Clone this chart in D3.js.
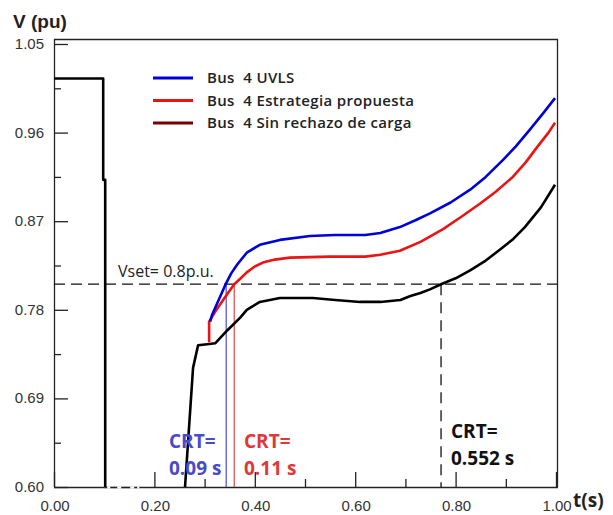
<!DOCTYPE html>
<html>
<head>
<meta charset="utf-8">
<script src="https://cdn.jsdelivr.net/npm/d3@7"></script>
<style>
  body { margin: 0; background: #fff; }
  svg { display: block; }
</style>
</head>
<body>
<svg id="chart" width="613" height="515"></svg>
<script>
// black: Bus 4 sin rechazo de carga
var tBlack = [0, 0.098, 0.098, 0.102, 0.102, 0.255, 0.261, 0.277, 0.287, 0.305, 0.321, 0.345, 0.371, 0.384, 0.41, 0.45, 0.516, 0.56, 0.61, 0.65, 0.69, 0.71, 0.73, 0.75, 0.771, 0.80, 0.829, 0.86, 0.888, 0.915, 0.938, 0.97, 0.998]
var vBlack = [1.015, 1.015, 0.912, 0.912, 0.55, 0.55, 0.60, 0.721, 0.744, 0.745, 0.746, 0.759, 0.772, 0.78, 0.788, 0.792, 0.792, 0.79, 0.788, 0.788, 0.790, 0.794, 0.797, 0.801, 0.806, 0.812, 0.820, 0.830, 0.841, 0.852, 0.864, 0.884, 0.907]

// blue: UVLS
var tBlue = [0.311, 0.315, 0.328, 0.341, 0.353, 0.365, 0.384, 0.41, 0.45, 0.51, 0.56, 0.62, 0.65, 0.689, 0.72, 0.749, 0.79, 0.829, 0.86, 0.894, 0.92, 0.948, 0.975, 0.998]
var vBlue = [0.768, 0.775, 0.790, 0.805, 0.817, 0.826, 0.838, 0.846, 0.851, 0.855, 0.856, 0.856, 0.858, 0.864, 0.871, 0.878, 0.889, 0.902, 0.915, 0.932, 0.946, 0.963, 0.980, 0.995]

// red: estrategia propuesta
var tRed = [0.309, 0.309, 0.321, 0.341, 0.359, 0.372, 0.384, 0.40, 0.416, 0.44, 0.47, 0.55, 0.62, 0.65, 0.689, 0.73, 0.775, 0.81, 0.849, 0.88, 0.914, 0.94, 0.962, 0.985, 0.998]
var vRed = [0.747, 0.768, 0.778, 0.793, 0.806, 0.812, 0.818, 0.824, 0.828, 0.831, 0.833, 0.834, 0.834, 0.836, 0.840, 0.849, 0.862, 0.874, 0.888, 0.900, 0.915, 0.930, 0.945, 0.960, 0.970]

var yTicks = [0.60, 0.69, 0.78, 0.87, 0.96, 1.05]
var yMinor = [0.645, 0.735, 0.825, 0.915, 1.005]
var xTicks = [0, 0.2, 0.4, 0.6, 0.8, 1.0]
var xMinor = [0.1, 0.3, 0.5, 0.7, 0.9]

var vset = 0.806
var crtBlue = 0.343, crtRed = 0.359, crtBlack = 0.771

var legendNames = ["Bus  4 UVLS", "Bus  4 Estrategia propuesta", "Bus  4 Sin rechazo de carga"]
var legendColors = ["#0000d8", "#e81515", "#780000"]

var svg = d3.select("svg#chart")
var pLeft = 54, pRight = 557, pTop = 44, pBottom = 487, frameTop = 39

var x = d3.scaleLinear().domain([0, 1]).range([pLeft, pRight - 1])
var y = d3.scaleLinear().domain([0.60, 1.05]).range([pBottom, pTop])

svg.append("defs").append("clipPath").attr("id", "clip")
    .append("rect").attr("x", pLeft).attr("y", frameTop).attr("width", pRight - pLeft + 1).attr("height", pBottom - frameTop)

// frame top/right
svg.append("path")
    .attr("d", "M" + pLeft + "," + (frameTop + 0.5) + " H" + (pRight + 0.5) + " V" + pBottom)
    .attr("fill", "none").attr("stroke", "#222").attr("stroke-width", 1.3)

// axes
var yAxis = svg.append("g").attr("transform", "translate(" + pLeft + ",0)")
    .call(d3.axisRight(y).tickValues(yTicks).tickSize(14).tickFormat(""))
yAxis.select(".domain").attr("d", "M0.5," + frameTop + " V" + pBottom)
svg.append("g").attr("transform", "translate(" + pLeft + ",0)")
    .call(d3.axisRight(y).tickValues(yMinor).tickSize(7).tickFormat(""))
    .select(".domain").remove()

var xAxis = svg.append("g").attr("transform", "translate(0," + pBottom + ")")
    .call(d3.axisTop(x).tickValues(xTicks).tickSize(15).tickFormat(""))
xAxis.select(".domain").attr("d", "M" + pLeft + ",0.5 H" + (pRight + 1))
svg.append("g").attr("transform", "translate(0," + pBottom + ")")
    .call(d3.axisTop(x).tickValues(xMinor).tickSize(8).tickFormat(""))
    .select(".domain").remove()

svg.selectAll(".tick line, .domain").attr("stroke", "#222").attr("stroke-width", 1.3)

// tick labels
svg.append("g").selectAll("text").data(yTicks).enter().append("text")
    .attr("x", pLeft - 10).attr("y", function (d) { return y(d) + 5 })
    .attr("text-anchor", "end")
    .style("font", "15px 'Liberation Sans', Arial, sans-serif").attr("fill", "#333")
    .text(function (d) { return d.toFixed(2) })

svg.append("g").selectAll("text").data(xTicks).enter().append("text")
    .attr("x", function (d) { return x(d) + 1 }).attr("y", 511)
    .attr("text-anchor", "middle")
    .style("font", "15px 'Liberation Sans', Arial, sans-serif").attr("fill", "#333")
    .text(function (d) { return d.toFixed(2) })

svg.append("text").attr("x", 13).attr("y", 28).text("V (pu)")
    .style("font", "bold 19px 'Liberation Sans', Arial, sans-serif").attr("fill", "#222")
svg.append("text").attr("x", 573).attr("y", 507).text("t(s)")
    .style("font", "bold 19px 'Open Sans', sans-serif").attr("fill", "#222")

// white gap + dashes along bottom
svg.append("line").attr("x1", x(0.1)).attr("x2", x(0.17)).attr("y1", pBottom + 0.5).attr("y2", pBottom + 0.5)
    .attr("stroke", "#fff").attr("stroke-width", 2)
svg.append("line").attr("x1", x(0.1)).attr("x2", x(0.17)).attr("y1", pBottom + 0.5).attr("y2", pBottom + 0.5)
    .attr("stroke", "#222").attr("stroke-width", 1.3).attr("stroke-dasharray", "3,3,7,4,9,4")

// Vset line
svg.append("line").attr("x1", pLeft).attr("x2", pRight).attr("y1", y(vset)).attr("y2", y(vset))
    .attr("stroke", "#111").attr("stroke-width", 1.3).attr("stroke-dasharray", "11,6")
svg.append("text").attr("x", 118).attr("y", y(vset) - 7).text("Vset= 0.8p.u.")
    .style("font", "16px 'Open Sans', sans-serif").attr("fill", "#222")

// CRT lines
svg.append("line").attr("x1", x(crtBlue)).attr("x2", x(crtBlue)).attr("y1", y(vset)).attr("y2", pBottom)
    .attr("stroke", "#4a4ad0").attr("stroke-width", 1.2)
svg.append("line").attr("x1", x(crtRed)).attr("x2", x(crtRed)).attr("y1", y(vset)).attr("y2", pBottom)
    .attr("stroke", "#d84848").attr("stroke-width", 1.2)
svg.append("line").attr("x1", x(crtBlack)).attr("x2", x(crtBlack)).attr("y1", y(vset)).attr("y2", pBottom)
    .attr("stroke", "#111").attr("stroke-width", 1.3).attr("stroke-dasharray", "11,7")

// curves
var line = d3.line().x(function (d) { return x(d[0]) }).y(function (d) { return y(d[1]) })
var plot = svg.append("g").attr("clip-path", "url(#clip)")

function drawSeries(ts, vs, color) {
    plot.append("path").datum(d3.zip(ts, vs))
        .attr("d", line).attr("fill", "none")
        .attr("stroke", color).attr("stroke-width", 2.6).attr("stroke-linejoin", "round")
}
drawSeries(tBlack, vBlack, "#000")
drawSeries(tRed, vRed, "#e81515")
drawSeries(tBlue, vBlue, "#0000d8")

// legend
var leg = svg.append("g")
legendNames.forEach(function (name, i) {
    var ly = 78 + i * 22.5
    leg.append("line").attr("x1", 153).attr("x2", 193).attr("y1", ly).attr("y2", ly)
        .attr("stroke", legendColors[i]).attr("stroke-width", 3)
    leg.append("text").attr("x", 207).attr("y", ly + 5).text(name)
        .style("font", "600 15px 'Open Sans', sans-serif").style("letter-spacing", "0.35px")
        .style("white-space", "pre").attr("fill", "#222")
})

// CRT annotations
function addCrt(xp, y1, y2, txt, color) {
    svg.append("text").attr("x", xp).attr("y", y1).text("CRT=")
        .style("font", "bold 19px 'Open Sans', sans-serif").attr("fill", color)
    svg.append("text").attr("x", xp).attr("y", y2).text(txt)
        .style("font", "bold 19px 'Open Sans', sans-serif").attr("fill", color)
}
addCrt(169, 448, 475, "0.09 s", "#4a4ac8")
addCrt(244, 448, 475, "0.11 s", "#e03838")
addCrt(451, 438, 465, "0.552 s", "#111")
</script>
</body>
</html>
